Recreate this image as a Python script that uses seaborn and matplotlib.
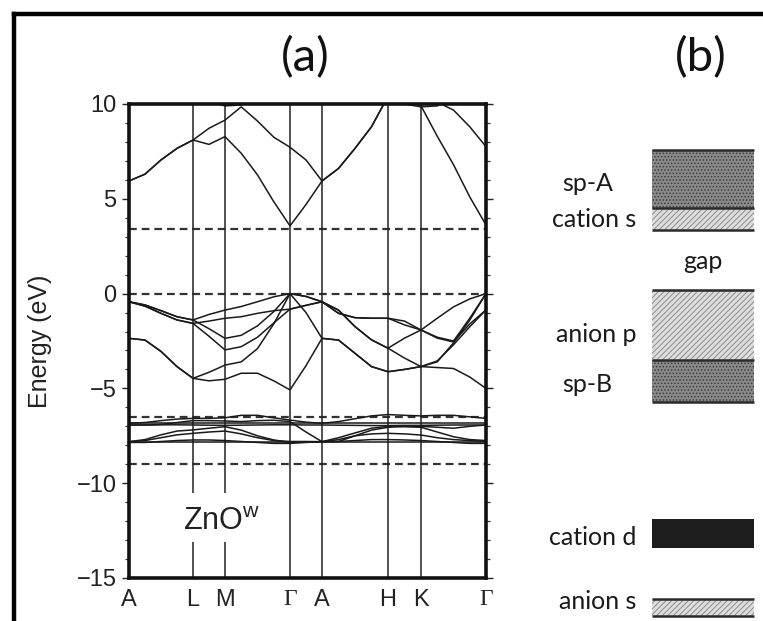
import numpy as np
import pandas as pd
import matplotlib
matplotlib.use("Agg")
import matplotlib.pyplot as plt
import seaborn as sns
from matplotlib.lines import Line2D

sns.set_theme(style="white")
plt.rcParams['font.family'] = ['Liberation Sans', 'DejaVu Sans']
plt.rcParams['mathtext.default'] = 'regular'
plt.rcParams['hatch.linewidth'] = 0.7
plt.rcParams['lines.solid_joinstyle'] = 'round'

# ---------------- data ----------------
kpt_labels = ['A', 'L', 'M', 'Γ', 'A', 'H', 'K', 'Γ']
kpt_pos = [0.0, 0.64, 0.96, 1.61, 1.93, 2.59, 2.92, 3.57]
seg_div = [4, 2, 4, 2, 4, 2, 4]

# conduction bands (eV) on the k grid
c1 = [5.94, 6.30, 7.05, 7.66, 8.10, 7.87, 8.28, 7.40, 6.26, 4.85, 3.57, 4.70, 5.94,
      6.60, 7.66, 8.80, 10.4, 10.4, 9.90, 8.30, 6.80, 5.10, 3.62]
c2 = [5.94, 6.30, 7.05, 7.66, 8.10, 8.72, 9.15, 9.85, 9.10, 8.25, 7.72, 7.05, 5.94,
      6.60, 7.66, 8.80, 10.4, 10.4, 10.3, 10.1, 9.68, 8.80, 7.75]
c3 = [11.0, 11.0, 11.0, 10.9, 10.6, 10.1, 9.90, 9.95, 10.5, 11.0, 11.0, 11.0, 11.0,
      11.0, 11.0, 11.0, 10.6, 10.0, 9.85, 9.90, 10.3, 11.0, 11.0]
# valence (anion p) bands
v1 = [-0.43, -0.60, -0.90, -1.22, -1.39, -1.10, -0.87, -0.68, -0.43, -0.17, 0.00, -0.15, -0.43,
      -1.04, -1.27, -1.30, -1.30, -1.45, -1.92, -1.30, -0.70, -0.28, 0.00]
v2 = [-0.43, -0.66, -1.04, -1.39, -1.57, -1.45, -1.30, -1.22, -1.04, -0.90, -0.82, -0.62, -0.43,
      -1.04, -1.27, -1.30, -1.30, -1.65, -1.92, -2.35, -2.55, -1.60, -0.86]
v3 = [-0.43, -0.60, -0.90, -1.22, -1.39, -1.85, -2.36, -2.20, -1.70, -0.95, 0.00, -1.00, -2.36,
      -2.45, -3.15, -3.85, -4.12, -4.00, -3.85, -3.60, -2.60, -1.40, 0.00]
v4 = [-0.43, -0.66, -1.04, -1.39, -1.57, -2.25, -2.97, -2.80, -2.30, -1.55, -0.82, -0.62, -0.43,
      -0.87, -1.74, -2.44, -2.88, -3.40, -3.85, -3.55, -2.70, -1.75, -0.86]
v5 = [-2.36, -2.45, -3.05, -3.85, -4.47, -4.15, -3.77, -3.60, -2.90, -1.60, 0.00, -0.15, -0.43,
      -0.87, -1.74, -2.44, -2.88, -2.35, -1.92, -2.30, -2.50, -1.30, 0.00]
v6 = [-2.36, -2.45, -3.05, -3.85, -4.47, -4.60, -4.52, -4.20, -4.20, -4.60, -5.08, -3.80, -2.36,
      -2.45, -3.15, -3.85, -4.12, -4.00, -3.85, -3.90, -3.95, -4.40, -5.00]
# cation d bands
d1 = [-6.84] * 23
d2 = [-6.93, -6.93, -6.92, -6.92, -6.93, -6.94, -6.95, -6.94, -6.93, -6.92, -6.92, -6.93, -6.93,
      -6.94, -6.95, -6.96, -6.96, -6.95, -6.95, -6.94, -6.93, -6.93, -6.93]
d3 = [-7.81] * 23
d4 = [-7.85, -7.85, -7.80, -7.75, -7.72, -7.72, -7.75, -7.80, -7.85, -7.90, -7.90, -7.85, -7.81,
      -7.80, -7.75, -7.70, -7.70, -7.72, -7.75, -7.80, -7.85, -7.90, -7.90]
d5 = [-6.84, -6.80, -6.70, -6.62, -6.58, -6.58, -6.55, -6.42, -6.42, -6.55, -6.67, -6.78, -6.84,
      -6.75, -6.60, -6.45, -6.38, -6.42, -6.45, -6.42, -6.42, -6.50, -6.58]
d6 = [-7.81, -7.70, -7.45, -7.25, -7.19, -7.10, -7.02, -7.20, -7.50, -7.72, -7.85, -7.83, -7.81,
      -7.60, -7.35, -7.10, -7.00, -7.02, -7.05, -7.30, -7.55, -7.70, -7.75]
d7 = [-7.81, -7.75, -7.60, -7.45, -7.37, -7.30, -7.25, -7.40, -7.60, -7.75, -7.80, -7.80, -7.81,
      -7.70, -7.50, -7.40, -7.37, -7.40, -7.46, -7.60, -7.70, -7.75, -7.80]
d8 = [-6.93, -6.93, -6.90, -6.80, -6.70, -6.70, -6.72, -6.75, -6.70, -6.68, -6.75, -7.30, -7.81,
      -7.80, -7.50, -7.20, -7.05, -7.00, -7.00, -7.05, -7.10, -7.00, -6.93]

ref_levels = [3.4, 0.0, -6.5, -9.0]          # dashed reference lines
gap_lo, gap_hi = -13.1, -10.5                # gap in L/M lines around the label

# panel (b): schematic levels
lvl_names = ['sp-A', 'cation s', 'anion p', 'sp-B', 'cation d', 'anion s']
lvl_lo = [4.5, 3.35, -3.5, -5.7, -13.4, -17.0]
lvl_hi = [7.6, 4.5, 0.2, -3.5, -11.9, -16.1]
lvl_style = ['dots', 'hatch', 'hatch', 'dots', 'solid', 'hatch']
lvl_label_y = [5.83, 3.93, -2.18, -4.77, -12.84, -16.25]
lvl_edges = [7.6, 4.5, 3.35, 0.2, -3.5, -5.7, -16.1, -17.0]

# ---------------- build ----------------
kgrid = []
for i, n in enumerate(seg_div):
    kgrid.extend(np.linspace(kpt_pos[i], kpt_pos[i + 1], n + 1)[:-1])
kgrid.append(kpt_pos[-1])
kgrid = np.array(kgrid)

bands = {'c1': c1, 'c2': c2, 'c3': c3, 'v1': v1, 'v2': v2, 'v3': v3, 'v4': v4, 'v5': v5,
         'v6': v6, 'd1': d1, 'd2': d2, 'd3': d3, 'd4': d4, 'd5': d5, 'd6': d6, 'd7': d7, 'd8': d8}
rows = []
for name, vals in bands.items():
    for k, e in zip(kgrid, vals):
        rows.append((name, k, e))
df = pd.DataFrame(rows, columns=['band', 'k', 'E'])

W, H = 763, 621
fig = plt.figure(figsize=(W / 100, H / 100), dpi=100)
ax = fig.add_axes([129 / W, 1 - 578 / H, 357 / W, 474 / H])

sns.lineplot(data=df, x='k', y='E', units='band', estimator=None, color='#1a1a1a',
             lw=1.1, ax=ax, legend=False)

for lvl in ref_levels:
    ax.axhline(lvl, color='#333333', lw=1.6, ls=(0, (3.5, 2.2)), zorder=1)

for lab, kp in zip(kpt_labels[1:-1], kpt_pos[1:-1]):
    if lab in ('L', 'M'):
        ax.vlines(kp, -15, gap_lo, color='#222222', lw=1.1, zorder=1)
        ax.vlines(kp, gap_hi, 10, color='#222222', lw=1.1, zorder=1)
    else:
        ax.vlines(kp, -15, 10, color='#222222', lw=1.1, zorder=1)

ax.set_xlim(kpt_pos[0], kpt_pos[-1])
ax.set_ylim(-15, 10)
ax.set_xticks(kpt_pos)
ax.set_xticklabels(kpt_labels)
for t in ax.get_xticklabels():
    if t.get_text() == 'Γ':
        t.set_family(['Liberation Serif', 'DejaVu Serif'])
ax.tick_params(axis='x', length=0, pad=8, labelsize=17, colors='#222222')
ax.set_yticks([-15, -10, -5, 0, 5, 10])
ax.set_yticklabels(['−15', '−10', '−5', '0', '5', '10'])
ax.set_yticks(np.arange(-15, 11, 1), minor=True)
ax.tick_params(axis='y', which='major', direction='out', length=5, width=1, pad=4,
               labelsize=17, left=True, right=True, colors='#222222')
ax.tick_params(axis='y', which='minor', direction='out', length=2.6, width=0.9,
               left=True, right=True, colors='#333333')
for s in ax.spines.values():
    s.set_linewidth(2.6)
    s.set_color('#111111')
ax.set_xlabel('')
ax.set_ylabel('Energy (eV)', fontsize=18, color='#222222')
ax.yaxis.set_label_coords(-0.215, 0.5)
ax.text(0.54, -12.47, 'ZnO$^{w}$', fontsize=22, color='#222222', va='baseline', ha='left')

# ---------------- panel (b) ----------------
axb = fig.add_axes([652 / W, 1 - 578 / H, 102 / W, 474 / H])
axb.set_xlim(0, 1)
axb.set_ylim(-15, 10)
axb.axis('off')
for name, lo, hi, sty in zip(lvl_names, lvl_lo, lvl_hi, lvl_style):
    if sty == 'dots':
        kw = dict(color='#8a8a8a', hatch='.....', edgecolor='#3c3c3c', linewidth=0)
    elif sty == 'hatch':
        kw = dict(color='#dedede', hatch='//////', edgecolor='#8c8c8c', linewidth=0)
    else:
        kw = dict(color='#1e1e1e', linewidth=0)
    axb.bar(0.5, hi - lo, bottom=lo, width=1.0, clip_on=False, **kw)
axb.hlines(lvl_edges, 0, 1, color='#2a2a2a', lw=1.8, clip_on=False)

lab_font = ['Lato', 'DejaVu Sans']
for name, y in zip(lvl_names, lvl_label_y):
    if name.startswith('sp'):
        axb.text(-0.63, y, name, ha='center', va='center', fontsize=18,
                 family=lab_font, color='#1a1a1a', clip_on=False)
    else:
        axb.text(-0.15, y, name, ha='right', va='center', fontsize=18,
                 family=lab_font, color='#1a1a1a', clip_on=False)
axb.text(0.5, 1.67, 'gap', ha='center', va='center', fontsize=18, family=lab_font,
         color='#1a1a1a', clip_on=False)

fig.text(305 / W, 1 - 58 / H, '(a)', ha='center', va='center', fontsize=34,
         family=lab_font, color='#111111')
fig.text(701 / W, 1 - 58 / H, '(b)', ha='center', va='center', fontsize=34,
         family=lab_font, color='#111111')

# outer frame
fig.add_artist(Line2D([14 / W, 14 / W], [0, 1 - 14 / H], transform=fig.transFigure,
                      color='black', lw=3.2, solid_capstyle='projecting'))
fig.add_artist(Line2D([14 / W, 1], [1 - 14 / H, 1 - 14 / H], transform=fig.transFigure,
                      color='black', lw=3.2, solid_capstyle='projecting'))

fig.savefig('out.png', dpi=100)
